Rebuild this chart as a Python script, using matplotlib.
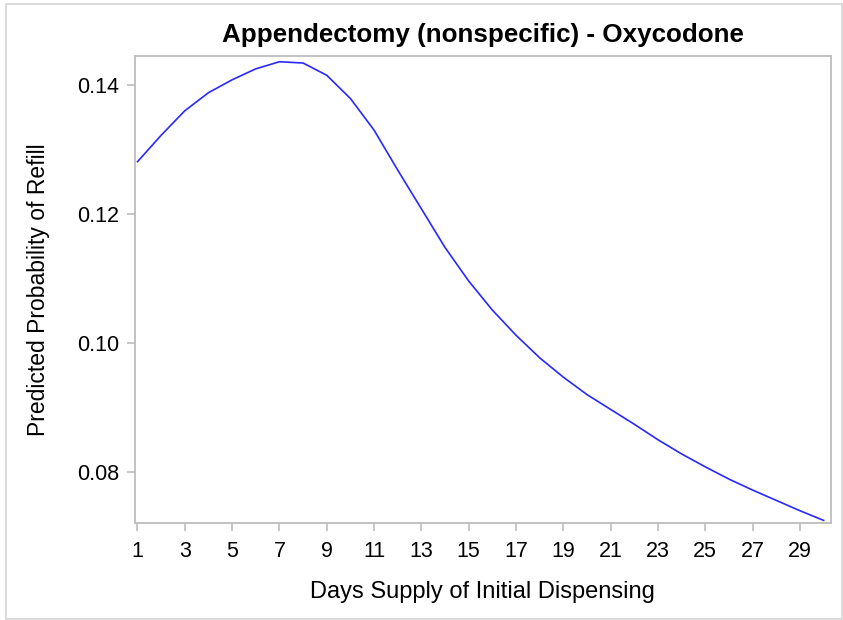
import matplotlib
matplotlib.use('Agg')
import matplotlib.pyplot as plt
from matplotlib.patches import Rectangle

# Days supply and predicted refill probability
days = list(range(1, 31))
prob = [0.1281, 0.1322, 0.1360, 0.1388, 0.1408, 0.1425, 0.1436, 0.1434, 0.1415, 0.1379,
        0.1330, 0.1268, 0.1208, 0.1148, 0.1096, 0.1051, 0.1012, 0.0977, 0.0947, 0.0920,
        0.0897, 0.0874, 0.0850, 0.0828, 0.0808, 0.0789, 0.0772, 0.0756, 0.0740, 0.0725]
x_ticks = list(range(1, 30, 2))
y_ticks = [0.08, 0.10, 0.12, 0.14]

title = 'Appendectomy (nonspecific) - Oxycodone'
x_label = 'Days Supply of Initial Dispensing'
y_label = 'Predicted Probability of Refill'

plt.rcParams['font.family'] = ['Liberation Sans', 'DejaVu Sans']

fig = plt.figure(figsize=(8.43, 6.2), dpi=100)
ax = fig.add_axes([0.160, 0.1565, 0.8254, 0.7537])

ax.plot(days, prob, color='#2828ff', linewidth=1.2)

ax.set_xlim(0.89, 30.3)
ax.set_ylim(0.0721, 0.14454)
ax.set_xticks(x_ticks)
ax.set_yticks(y_ticks)
ax.set_yticklabels([f'{v:.2f}' for v in y_ticks])

spine_col = '#bdbdbd'
for s in ax.spines.values():
    s.set_color(spine_col)
    s.set_linewidth(1.3)

ax.tick_params(axis='both', direction='out', length=6, width=1.2, color=spine_col,
               labelsize=15.5, labelcolor='black')
ax.tick_params(axis='x', pad=7)
ax.tick_params(axis='y', pad=5)

ax.set_title(title, fontsize=18.7, fontweight='bold', pad=10)
ax.set_xlabel(x_label, fontsize=17, labelpad=14)
ax.set_ylabel(y_label, fontsize=16.5, labelpad=20)

# light outer border around the whole graph
fig.patches.append(Rectangle((0.007, 0.0016), 0.9918, 0.9919, transform=fig.transFigure,
                             fill=False, edgecolor='#d4d4d4', linewidth=1.2))

fig.savefig('out.png', dpi=100)
